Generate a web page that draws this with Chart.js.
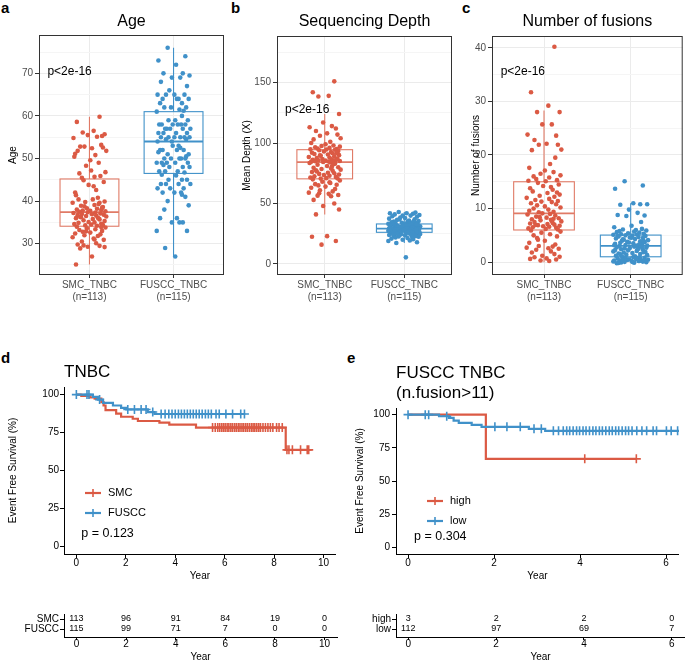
<!DOCTYPE html>
<html>
<head>
<meta charset="utf-8">
<script src="https://cdn.jsdelivr.net/npm/chart.js@4.4.1/dist/chart.umd.min.js"></script>
<style>
  body { margin: 0; background: #fff; width: 685px; height: 661px; position: relative; overflow: hidden;
         font-family: 'Liberation Sans', Arial, Helvetica, sans-serif; }
  canvas { position: absolute; }
  .tag { position: absolute; font-weight: bold; font-size: 15px; line-height: 15px; color: #000; }
</style>
</head>
<body>
<div class="tag" style="left:1px;top:0px">a</div>
<div class="tag" style="left:231px;top:0px">b</div>
<div class="tag" style="left:462px;top:0px">c</div>
<div class="tag" style="left:1px;top:350px">d</div>
<div class="tag" style="left:347px;top:350px">e</div>

<canvas id="chartA" width="228" height="305" style="left:0;top:0"></canvas>
<canvas id="chartB" width="228" height="305" style="left:228px;top:0"></canvas>
<canvas id="chartC" width="229" height="305" style="left:456px;top:0"></canvas>
<canvas id="chartD" width="342" height="245" style="left:0;top:340px"></canvas>
<canvas id="chartE" width="343" height="245" style="left:342px;top:340px"></canvas>
<canvas id="riskD" width="342" height="63" style="left:0;top:600px"></canvas>
<canvas id="riskE" width="343" height="63" style="left:342px;top:600px"></canvas>

<script>
const RED = '#DB5A44';
const BLUE = '#4091C9';
const FONT = "'Liberation Sans', Arial, Helvetica, sans-serif";

// ---- boxplot panels (a, b, c) ----
const groupNames = ['SMC_TNBC', 'FUSCC_TNBC'];
const groupN = ['(n=113)', '(n=115)'];

// horizontal jitter of the dots (category units)
const smcJitter = [0.12,-0.15,0.05,-0.08,0.18,-0.02,0.09,-0.19,0.14,-0.11,
  0.03,0.16,-0.06,0.2,-0.14,0.07,-0.17,0.01,0.11,-0.04,
  0.19,-0.12,0.06,-0.09,0.15,-0.18,0.02,0.13,-0.07,0.17,
  -0.01,0.08,-0.16,0.1,-0.13,0.04,0.18,-0.05,0.12,-0.2,
  0.06,-0.1,0.16,-0.03,0.09,-0.15,0.14,-0.08,0.01,0.19,
  -0.12,0.05,-0.17,0.11,-0.06,0.15,-0.02,0.07,-0.19,0.13,
  -0.09,0.03,0.17,-0.14,0.08,-0.04,0.2,-0.11,0.1,-0.16,
  0.04,0.12,-0.07,0.18,-0.01,0.06,-0.13,0.14,-0.18,0.02,
  0.16,-0.05,0.09,-0.1,0.11,-0.15,0.19,-0.03,0.07,-0.12,
  0.15,-0.08,0.01,-0.17,0.13,-0.06,0.1,-0.2,0.05,0.17,
  -0.09,0.08,-0.14,0.12,-0.02,0.18,-0.11,0.03,-0.16,0.14,
  -0.04,0.06,-0.07];
const fusccJitter = [-0.07,0.14,-0.18,0.03,0.11,-0.12,0.19,-0.02,0.08,-0.15,
  0.16,-0.05,0.01,-0.19,0.13,-0.09,0.06,0.18,-0.13,0.04,
  -0.16,0.1,-0.03,0.15,-0.11,0.07,-0.2,0.12,-0.06,0.02,
  0.17,-0.14,0.09,-0.01,0.14,-0.17,0.05,-0.08,0.2,-0.1,
  0.11,-0.04,0.16,-0.12,0.03,-0.18,0.13,-0.06,0.08,0.19,
  -0.15,0.01,-0.09,0.15,-0.02,0.1,-0.19,0.06,-0.13,0.12,
  0.04,-0.16,0.18,-0.07,0.09,-0.11,0.14,-0.03,0.07,-0.2,
  0.17,-0.08,0.02,-0.14,0.11,-0.05,0.19,-0.17,0.05,-0.1,
  0.13,-0.01,0.08,-0.18,0.15,-0.12,0.03,0.1,-0.06,0.16,
  -0.15,0.06,-0.09,0.2,-0.04,0.12,-0.19,0.01,0.09,-0.13,
  0.14,-0.07,0.18,-0.11,0.04,-0.16,0.11,-0.02,0.07,-0.2,
  0.16,-0.1,0.02,-0.14,0.1];

const ageSmc = [59.8,58.6,56.5,56.1,55.7,55.5,55.1,54.8,53.2,52.8,52.4,52.6,52.8,51.8,51.8,50.8,51.1,49.6,49.0,48.3,
  46.8,46.5,45.7,45.5,55.3,50.4,47.2,45.9,
  44.9,44.5,43.8,42.6,41.4,40.8,40.4,40.4,39.9,39.8,39.6,39.6,39.1,38.9,38.6,38.3,38.2,38.0,37.9,37.8,37.7,37.6,
  37.5,43.5,42.0,39.3,38.8,38.4,37.4,
  37.3,37.2,37.1,37.0,36.9,36.8,36.7,36.6,36.5,36.4,36.3,36.1,36.0,35.8,35.7,35.5,35.3,35.1,35.0,34.9,
  34.7,34.6,34.5,34.4,34.3,34.2,36.2,35.9,
  34.0,33.8,33.6,33.4,33.2,33.0,32.8,32.6,32.4,32.2,32.0,31.8,31.5,31.2,30.9,30.5,30.1,29.8,29.5,29.3,
  29.2,28.9,27.0,25.1,33.9,32.9,31.0,29.6];
const ageFuscc = [76,74,73,72,70,70,69.5,69,69,68,67,66,65,65,65,65,64,64,64,64,63,63,62,62,62,61.5,61,61.2,
  59,59,59,58,58,58,58,58,58,57,57,57,57,57,56,56,56,56,55,55,55,55,55,55,54.5,54.5,54,60,
  54,
  53,52,52,52,52,51,51,50,50,50,50,50,49,49,49,49,49,48,48,48,47,47,47,46.7,53,52.5,51.5,50.5,48.5,
  46,45,45,45,44,44,44,44,43,43,43,42,42,42,41,40,39,38,36,36,35,35,35,33,33,29,27,46.2,41.5];
const ageBoxSmc = [25.1, 34.1, 37.4, 45.2, 59.8];
const ageBoxFuscc = [27, 46.5, 54, 61, 76];

const depthSmc = [151,142,139,138.5,124,117,114,113,112,110,108,107,106,104,103,101,100,99,98,97.5,97,96.5,96,95.5,
  95,94.8,94.6,94.5,
  94,93.5,93,92.5,92,91.5,91,90.5,90,89.5,89,88.5,88,87.5,87,86.8,86.5,86.2,86,85.8,85.5,85.2,85,84.8,84.6,84.5,
  89.8,91.8,84.3,
  84,83.5,83,82,81,80,79.5,79,78.5,78,77.5,77,76,75.5,75,74.5,74,73.5,73,72.5,72,71.5,71,70.8,70.6,80.5,76.5,82.5,
  70,69,68,67,66,65.5,65,64,63,62,61,60,59,58,57,56.5,56,53,50,48,45,41,23,22.5,19,16,67.5,58.5];
const depthFuscc = [43,42.5,42,42,41.5,41,40.5,40,40,39.5,39,38.5,38,37.5,37,36.5,36,35.5,35,34.8,34.5,34.2,34,
  33.8,33.6,33.4,33.2,35.2,36.8,
  33,32.8,32.6,32.4,32.2,32,31.8,31.6,31.4,31.2,31,30.8,30.6,30.4,30.2,30,29.9,29.8,29.7,29.6,29.5,29.4,31.5,30.5,
  32.5,31.1,30.1,29.45,29.3,
  29.2,29.1,29,28.9,28.8,28.6,28.4,28.2,28,27.8,27.6,27.4,27.2,27,26.9,26.8,26.7,26.6,26.5,26.4,26.3,28.5,27.5,
  28.1,26.85,27.9,28.7,27.1,
  26.1,26,25.8,25.6,25.4,25.2,25,24.8,24.5,24.2,24,23.8,23.5,23.2,23,22.8,22.5,22,21.5,21,20.5,20,19.5,19,18,17.4,
  5.5,24.6,22.3];
const depthBoxSmc = [41, 70.4, 84.3, 94.5, 124];
const depthBoxFuscc = [17.4, 26.2, 29.3, 33.1, 43];

const fusionSmc = [40.2,31.7,29.2,28,28,25.7,25.7,23.8,23.6,22.8,22.1,21.9,21.9,21,20.9,18.3,17.6,17.1,16.8,16.5,
  16.2,16,15.8,15.5,15.3,15.2,15.1,19.5,
  14.8,14.5,14.2,14,13.8,13.5,13.2,12.9,12.6,12.4,12.2,12,11.8,11.6,11.4,11.3,11.2,11,10.8,10.6,10.4,10.2,10,9.8,
  9.6,9.4,9.3,13,9.1,
  9,8.9,8.7,8.5,8.3,8.2,8,7.9,7.8,7.6,7.5,7.3,7.2,7.1,7,6.9,6.8,6.7,6.6,6.5,6.4,6.3,6.2,6.1,8.4,7.7,6.95,8.1,
  5.9,5.7,5.5,5.2,5,4.8,4.5,4,3.6,3.3,3,2.9,2.7,2.6,2.5,2.3,2,1.8,1.5,1.2,1,0.9,0.7,0.6,0.5,0.3,0.2,4.2];
const fusionFuscc = [15.1,14.3,13.7,11,10.8,10.7,10.8,9.8,9.2,8.8,8.7,8.6,6.8,6.5,6.2,6.1,6,5.9,5.8,5.7,5.6,5.5,
  5.4,5.3,5.2,5.15,5.1,7.5,
  5,4.95,4.9,4.8,4.7,4.6,4.5,4.4,4.3,4.2,4.1,4,3.9,3.8,3.7,3.6,3.5,3.4,3.3,3.2,3.1,3.08,4.85,4.55,4.25,3.95,
  3.65,3.35,3.15,3.05,
  3,2.95,2.9,2.8,2.7,2.6,2.5,2.4,2.3,2.2,2.1,2,1.9,1.8,1.7,1.6,1.5,1.4,1.3,1.2,1.1,1.05,2.85,2.65,2.45,2.25,
  1.85,1.45,
  0.95,0.9,0.85,0.8,0.7,0.6,0.5,0.45,0.4,0.35,0.3,0.25,0.2,0.15,0.1,0.05,0,-0.05,-0.1,-0.2,0.65,0.55,0.75,
  0.12,0.32,0.42,0.02,-0.15,0.22];
const fusionBoxSmc = [0, 6, 9.1, 15, 28.3];
const fusionBoxFuscc = [0, 1, 3.05, 5.05, 11];

// ---- survival panels (d, e) ----
// d: TNBC, SMC vs FUSCC
const smcTimes = [0.2, 0.54, 0.74, 1.01, 1.10, 1.18, 1.61, 1.81, 2.28, 2.49, 3.36, 3.76, 4.84, 8.47];
const smcSurv = [99.1, 98.2, 97.3, 95.0, 92.8, 89.8, 87.4, 85.4, 84.1, 82.6, 81.5, 80.2, 78.3, 63.6];
const smcCensor = [5.51,5.62,5.72,5.8,5.88,5.95,6.02,6.1,6.17,6.25,6.32,6.4,6.47,6.55,6.62,6.7,6.77,6.85,6.92,
  7.0,7.08,7.15,7.22,7.3,7.38,7.45,7.55,7.65,7.75,7.85,7.95,8.1,8.2,8.33,8.52,8.6,8.74,9.07,9.34,9.4];
const fusccTimes = [0.67, 0.87, 1.08, 1.48, 1.81, 2.02, 2.89, 3.16];
const fusccSurv = [98.5, 96.7, 94.6, 92.8, 91.3, 90.2, 88.5, 87.2];
const fusccCensor = [0,0.43,0.51,0.94,2.08,2.35,2.62,2.82,3.09,3.43,3.59,3.74,3.87,4.0,4.13,4.25,4.37,4.49,4.61,
  4.73,4.85,4.97,5.09,5.22,5.34,5.46,5.65,5.78,6.05,6.32,6.65,6.8];
const riskTimesD = [0, 2, 4, 6, 8, 10];
const smcRisk = [113, 96, 91, 84, 19, 0];
const fusccRisk = [115, 99, 71, 7, 0, 0];

// e: FUSCC TNBC by number of fusions
const highTimes = [1.81];
const highSurv = [66.7];
const highCensor = [4.11, 5.31];
const lowTimes = [0.72, 0.95, 1.06, 1.18, 1.48, 1.71, 2.81, 3.19];
const lowSurv = [98.8, 97.5, 95.5, 93.8, 92.3, 90.8, 89.3, 87.8];
const lowCensor = [0,0.4,0.48,0.9,2.02,2.3,2.61,2.93,3.1,3.38,3.5,3.61,3.69,3.76,3.84,3.92,3.99,4.07,4.14,4.22,
  4.3,4.37,4.45,4.52,4.6,4.68,4.75,4.83,4.9,4.98,5.06,5.13,5.21,5.32,5.44,5.55,5.7,5.78,6.01,6.12,6.27,6.5];
const riskTimesE = [0, 2, 4, 6];
const highRisk = [3, 2, 2, 0];
const lowRisk = [112, 97, 69, 7];

// ---- helpers ----
function stepData(times, surv, end) {
  const pts = [{x: 0, y: 100}];
  times.forEach((t, i) => pts.push({x: t, y: surv[i]}));
  pts.push({x: end, y: surv[surv.length - 1]});
  return pts;
}
function survAt(times, surv, t) {
  let s = 100;
  times.forEach((tt, i) => { if (tt <= t) s = surv[i]; });
  return s;
}

// draws boxes, panel border, titles, p values, legends and risk numbers
const deco = {
  id: 'deco',
  beforeDatasetsDraw(chart, args, o) {
    if (!o.boxes) return;
    const ctx = chart.ctx, xs = chart.scales.x, ys = chart.scales.y;
    o.boxes.forEach((b, i) => {
      const [lo, q1, med, q3, hi] = b.stats.map(v => ys.getPixelForValue(v));
      const xl = xs.getPixelForValue(i - 0.35), xr = xs.getPixelForValue(i + 0.35), xc = xs.getPixelForValue(i);
      ctx.save();
      ctx.strokeStyle = b.color;
      ctx.lineWidth = 1.1;
      ctx.beginPath();
      ctx.moveTo(xc, hi); ctx.lineTo(xc, q3);
      ctx.moveTo(xc, q1); ctx.lineTo(xc, lo);
      ctx.stroke();
      ctx.strokeRect(xl, q3, xr - xl, q1 - q3);
      ctx.lineWidth = 1.8;
      ctx.beginPath(); ctx.moveTo(xl, med); ctx.lineTo(xr, med); ctx.stroke();
      ctx.restore();
    });
  },
  afterDatasetsDraw(chart, args, o) {
    const ctx = chart.ctx;
    chart.data.datasets.forEach((ds, di) => {
      if (!ds.counts) return;
      const meta = chart.getDatasetMeta(di);
      ctx.save();
      ctx.fillStyle = '#000';
      ctx.font = '9px ' + FONT;
      ctx.textAlign = 'center';
      ctx.textBaseline = 'middle';
      meta.data.forEach((el, j) => ctx.fillText(String(ds.counts[j]), el.x, el.y));
      ctx.restore();
    });
  },
  afterDraw(chart, args, o) {
    const ctx = chart.ctx, ca = chart.chartArea;
    ctx.save();
    if (o.border) {
      ctx.strokeStyle = '#333';
      ctx.lineWidth = 1;
      ctx.strokeRect(ca.left + 0.5, ca.top + 0.5, ca.width - 1, ca.height - 1);
    }
    if (o.title) {
      ctx.fillStyle = '#000';
      ctx.font = o.title.size + 'px ' + FONT;
      ctx.textBaseline = 'middle';
      ctx.textAlign = o.title.align;
      const tx = o.title.align === 'center' ? (ca.left + ca.right) / 2 : ca.left;
      o.title.lines.forEach((line, i) => ctx.fillText(line, tx, o.title.y[i]));
    }
    if (o.pText) {
      ctx.fillStyle = '#000';
      ctx.font = o.pText.size + 'px ' + FONT;
      ctx.textAlign = 'left';
      ctx.textBaseline = 'middle';
      ctx.fillText(o.pText.text, chart.scales.x.getPixelForValue(o.pText.x), chart.scales.y.getPixelForValue(o.pText.y));
    }
    if (o.legend) {
      const L = o.legend;
      L.items.forEach(it => {
        ctx.strokeStyle = it.color;
        ctx.lineWidth = 2.2;
        ctx.beginPath();
        ctx.moveTo(L.x0, it.y); ctx.lineTo(L.x1, it.y);
        ctx.stroke();
        ctx.lineWidth = 1.6;
        const xm = (L.x0 + L.x1) / 2;
        ctx.beginPath(); ctx.moveTo(xm, it.y - 4); ctx.lineTo(xm, it.y + 4); ctx.stroke();
        ctx.fillStyle = '#000';
        ctx.font = '11px ' + FONT;
        ctx.textAlign = 'left';
        ctx.textBaseline = 'middle';
        ctx.fillText(it.label, L.tx, it.y);
      });
    }
    ctx.restore();
  }
};
Chart.register(deco);
Chart.defaults.font.family = FONT;
Chart.defaults.plugins.legend.display = false;
Chart.defaults.plugins.tooltip.enabled = false;

function boxChart(id, o) {
  const jit = [smcJitter, fusccJitter];
  const colors = [RED, BLUE];
  const datasets = o.values.map((vals, gi) => ({
    data: vals.map((v, i) => ({x: gi + jit[gi][i % jit[gi].length], y: v})),
    backgroundColor: colors[gi],
    pointRadius: 2.3,
    pointHoverRadius: 2.3,
    borderWidth: 0
  }));
  return new Chart(document.getElementById(id), {
    type: 'scatter',
    data: {datasets},
    options: {
      responsive: false,
      animation: false,
      layout: {padding: {top: o.top, right: o.right, left: 0, bottom: 0}},
      scales: {
        x: {
          min: -0.6, max: 1.6,
          afterBuildTicks: s => { s.ticks = [{value: 0}, {value: 1}]; },
          afterFit: s => { s.height = 305 - 275; },
          grid: {color: '#ebebeb', tickColor: '#333', tickLength: 3},
          border: {display: false},
          ticks: {color: '#4d4d4d', font: {size: 10}, padding: 1, autoSkip: false, maxRotation: 0,
                  callback: v => [groupNames[v], groupN[v]]}
        },
        y: {
          min: o.yMin, max: o.yMax,
          afterBuildTicks: s => { s.ticks = o.yTicks.map(v => ({value: v})); },
          afterFit: s => { s.width = o.yWidth; },
          grid: {
            color: c => (c.tick && c.tick.value % o.major === 0) ? '#ebebeb' : '#f5f5f5',
            tickColor: c => (c.tick && c.tick.value % o.major === 0) ? '#333' : 'rgba(0,0,0,0)',
            tickLength: 4
          },
          border: {display: false},
          ticks: {color: '#4d4d4d', font: {size: 10}, padding: 2, autoSkip: false,
                  callback: v => (v % o.major === 0 ? v : '')},
          title: {display: true, text: o.yTitle, color: '#000', font: {size: 10},
                  padding: {top: o.yTitlePad, bottom: 0}}
        }
      },
      plugins: {
        deco: {
          border: true,
          boxes: [{stats: o.boxes[0], color: '#E07A66'}, {stats: o.boxes[1], color: BLUE}],
          title: {lines: [o.title], y: [22], size: 16, align: 'center'},
          pText: {text: 'p<2e-16', x: -0.5, y: o.pY, size: 12}
        }
      }
    }
  });
}

function kmChart(id, o) {
  const datasets = [];
  o.groups.forEach((g, gi) => {
    datasets.push({
      data: stepData(g.times, g.surv, g.censor[g.censor.length - 1]),
      stepped: 'before', borderColor: g.color, borderWidth: 2.2, pointRadius: 0, fill: false, order: 10 - gi
    });
  });
  o.groups.forEach((g, gi) => {
    datasets.push({
      data: g.censor.map(t => ({x: t, y: survAt(g.times, g.surv, t)})),
      showLine: false, pointStyle: 'cross', pointRadius: 4.5, pointHoverRadius: 4.5,
      borderColor: g.color, borderWidth: 1.6, order: 5 - gi
    });
  });
  return new Chart(document.getElementById(id), {
    type: 'line',
    data: {datasets},
    options: {
      responsive: false,
      animation: false,
      layout: {padding: {top: o.top, right: o.right, left: 0, bottom: 0}},
      scales: {
        x: {
          type: 'linear', min: o.xMin, max: o.xMax,
          afterBuildTicks: s => { s.ticks = o.xTicks.map(v => ({value: v})); },
          afterFit: s => { s.height = 31; },
          grid: {display: true, drawOnChartArea: false, tickLength: 4, tickColor: '#000'},
          border: {display: true, color: '#000', width: 1},
          ticks: {color: '#000', font: {size: 10}, padding: -1, autoSkip: false, maxRotation: 0},
          title: {display: true, text: 'Year', color: '#000', font: {size: 10}, padding: {top: 0, bottom: 3}}
        },
        y: {
          min: -5, max: 105,
          afterBuildTicks: s => { s.ticks = [0, 25, 50, 75, 100].map(v => ({value: v})); },
          afterFit: s => { s.width = o.yWidth; },
          grid: {display: true, drawOnChartArea: false, tickLength: 4, tickColor: '#000'},
          border: {display: true, color: '#000', width: 1},
          ticks: {color: '#000', font: {size: 10}, padding: o.yPad, autoSkip: false},
          title: {display: true, text: 'Event Free Survival (%)', color: '#000', font: {size: 10},
                  padding: {top: o.yTitlePad, bottom: 0}}
        }
      },
      plugins: {
        deco: {
          title: {lines: o.title, y: o.titleY, size: 17, align: 'left'},
          pText: {text: o.pText, x: o.pX, y: 8.5, size: 12.5},
          legend: {x0: 85, x1: 101, tx: 108, items: o.groups.map((g, gi) => ({label: g.name, color: g.color, y: o.legendY[gi]}))}
        }
      }
    }
  });
}

function riskChart(id, o) {
  const n = o.groups.length;
  const datasets = o.groups.map((g, gi) => ({
    data: o.times.map(t => ({x: t, y: n - gi})),
    counts: g.counts, pointRadius: 0, showLine: false
  }));
  return new Chart(document.getElementById(id), {
    type: 'line',
    data: {datasets},
    options: {
      responsive: false,
      animation: false,
      layout: {padding: {top: 14, right: o.right, left: 0, bottom: 0}},
      scales: {
        x: {
          type: 'linear', min: o.xMin, max: o.xMax,
          afterBuildTicks: s => { s.ticks = o.xTicks.map(v => ({value: v})); },
          afterFit: s => { s.height = 26; },
          grid: {display: true, drawOnChartArea: false, tickLength: 3, tickColor: '#000'},
          border: {display: true, color: '#000', width: 1},
          ticks: {color: '#000', font: {size: 10}, padding: -2, autoSkip: false, maxRotation: 0},
          title: {display: true, text: 'Year', color: '#000', font: {size: 10}, padding: {top: 0, bottom: 0}}
        },
        y: {
          min: 0.2, max: 2.5,
          afterBuildTicks: s => { s.ticks = [{value: 1}, {value: 2}]; },
          afterFit: s => { s.width = o.yWidth; },
          grid: {display: true, drawOnChartArea: false, tickLength: 4, tickColor: '#000'},
          border: {display: true, color: '#000', width: 1},
          ticks: {color: '#000', font: {size: 10}, padding: 1, autoSkip: false,
                  callback: v => o.groups[n - v].name}
        }
      }
    }
  });
}

boxChart('chartA', {values: [ageSmc, ageFuscc], boxes: [ageBoxSmc, ageBoxFuscc], title: 'Age', yTitle: 'Age',
  yMin: 22.65, yMax: 79.0, yTicks: [25, 30, 35, 40, 45, 50, 55, 60, 65, 70, 75], major: 10,
  top: 35, right: 4, yWidth: 39, yTitlePad: 7, pY: 70.5});
boxChart('chartB', {values: [depthSmc, depthFuscc], boxes: [depthBoxSmc, depthBoxFuscc], title: 'Sequencing Depth',
  yTitle: 'Mean Depth (X)', yMin: -9.1, yMax: 188.5, yTicks: [0, 25, 50, 75, 100, 125, 150, 175], major: 50,
  top: 36, right: 4, yWidth: 49, yTitlePad: 13, pY: 127.6});
boxChart('chartC', {values: [fusionSmc, fusionFuscc], boxes: [fusionBoxSmc, fusionBoxFuscc], title: 'Number of fusions',
  yTitle: 'Number of fusions', yMin: -2.4, yMax: 42.2, yTicks: [0, 5, 10, 15, 20, 25, 30, 35, 40], major: 10,
  top: 36, right: 1, yWidth: 36, yTitlePad: 14, pY: 35.6});

kmChart('chartD', {
  groups: [
    {name: 'SMC', color: RED, times: smcTimes, surv: smcSurv, censor: smcCensor},
    {name: 'FUSCC', color: BLUE, times: fusccTimes, surv: fusccSurv, censor: fusccCensor}
  ],
  title: ['TNBC'], titleY: [32], pText: 'p = 0.123', pX: 0.2,
  xMin: -0.5, xMax: 10.5, xTicks: [0, 2, 4, 6, 8, 10],
  top: 47, right: 5, yWidth: 64, yPad: 1, yTitlePad: 7, legendY: [153, 173]
});
kmChart('chartE', {
  groups: [
    {name: 'high', color: RED, times: highTimes, surv: highSurv, censor: highCensor},
    {name: 'low', color: BLUE, times: lowTimes, surv: lowSurv, censor: lowCensor}
  ],
  title: ['FUSCC TNBC', '(n.fusion>11)'], titleY: [33, 53], pText: 'p = 0.304', pX: 0.14,
  xMin: -0.28, xMax: 6.3, xTicks: [0, 2, 4, 6],
  top: 68, right: 0, yWidth: 54, yPad: 2, yTitlePad: 12, legendY: [161, 181]
});

riskChart('riskD', {
  groups: [{name: 'SMC', counts: smcRisk}, {name: 'FUSCC', counts: fusccRisk}],
  times: riskTimesD, xMin: -0.5, xMax: 10.5, xTicks: riskTimesD, right: 5, yWidth: 64
});
riskChart('riskE', {
  groups: [{name: 'high', counts: highRisk}, {name: 'low', counts: lowRisk}],
  times: riskTimesE, xMin: -0.28, xMax: 6.3, xTicks: riskTimesE, right: 0, yWidth: 54
});
</script>
</body>
</html>
